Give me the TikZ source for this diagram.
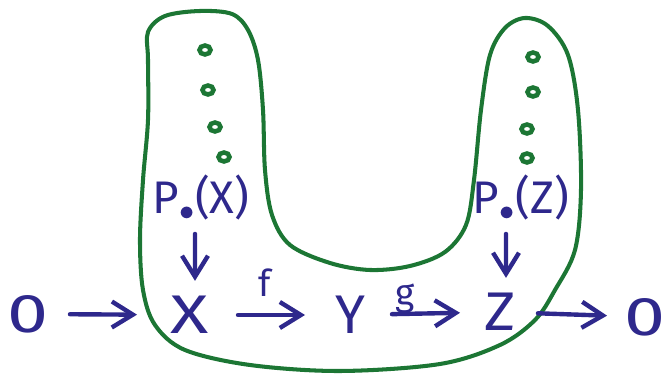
\documentclass[tikz,border=0pt]{standalone}
\usepackage{fontspec}
\setmainfont{Fira Sans}
\usetikzlibrary{arrows.meta}
\definecolor{ink}{RGB}{46,40,140}
\definecolor{hull}{RGB}{28,118,52}
\begin{document}
\begin{tikzpicture}[x=0.02cm,y=-0.02cm,
  lbl/.style={text=ink, inner sep=0pt, font=\fontsize{31}{33}\selectfont},
  zerolbl/.style={text=ink, inner sep=0pt, font=\fontsize{31}{33}\selectfont},
  plbl/.style={text=ink, inner sep=0pt, font=\fontsize{26}{28}\selectfont},
  maplbl/.style={text=ink, inner sep=0pt, font=\fontsize{21}{23}\selectfont},
  arr/.style={draw=ink, line width=2.5pt, line cap=round, line join=round,
    -{Straight Barb[length=0.42cm,width=0.52cm]}},
  hullline/.style={draw=hull, line width=2.3pt, line cap=round, line join=round},
  dotring/.style={draw=hull, line width=2.6pt}]
\useasboundingbox (0,0) rectangle (667,374);
% hull outline
\draw[hullline] plot[smooth cycle, tension=0.55] coordinates {
  (148,32) (165,16) (200,11) (232,14) (248,30) (258,60) (263,110) (265,170)
  (272,215) (290,245) (330,263) (370,270) (410,266) (445,252) (466,225)
  (474,180) (481,110) (490,55) (505,28) (525,18) (548,26) (568,55) (578,110)
  (581,190) (575,250) (555,290) (535,320) (500,345) (440,364) (340,371)
  (250,365) (185,350) (155,325) (143,290) (140,240) (143,180) (148,120) (148,60)};
% dots
\foreach \p in {(205,50),(208,90),(215,127),(224,157),(533,57),(533,92),(527,129),(527,158)}
  \draw[dotring] \p ellipse[x radius=5.5, y radius=4.5];
% nodes
\node[zerolbl] (zl) at (28,314) {\scalebox{1.35}[1]{0}};
\node[lbl] (x) at (190,315) {\scalebox{1.3}[1]{X}};
\node[lbl] (y) at (350,315) {Y};
\node[lbl] (z) at (500,312) {\scalebox{1.1}[1]{Z}};
\node[zerolbl] (zr) at (645,317) {\scalebox{1.35}[1]{0}};
\node[plbl] (px) at (201,198) {P$_{\bullet}$(X)};
\node[plbl] (pz) at (521,198) {P$_{\bullet}$(Z)};
% arrows
\draw[arr, shorten <=0.84cm, shorten >=1.06cm] (zl.center) -- (x.center);
\draw[arr, shorten <=0.96cm, shorten >=0.9cm] (x.center) -- node[maplbl, above=0.33cm, xshift=-0.1cm] (f) {f} (y.center);
\draw[arr, shorten <=0.84cm, shorten >=0.8cm] (y.center) -- node[maplbl, above=-0.05cm, xshift=-0.4cm] (g) {g} (z.center);
\draw[arr, shorten <=0.76cm, shorten >=0.76cm] (z.center) -- (zr.center);
\draw[arr, shorten <=0.26cm, shorten >=0.3cm] ([xshift=-0.12cm]px.south) -- ([xshift=0.1cm]x.north);
\draw[arr, shorten <=0.26cm, shorten >=0.3cm] ([xshift=-0.3cm]pz.south) -- ([xshift=0.12cm]z.north);
\end{tikzpicture}
\end{document}
